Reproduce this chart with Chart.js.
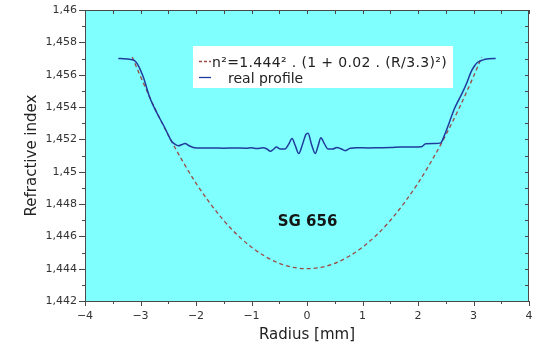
<!DOCTYPE html>
<html>
<head>
<meta charset="utf-8">
<script src="https://cdn.jsdelivr.net/npm/chart.js@4/dist/chart.umd.min.js"></script>
<style>
  html, body { margin: 0; padding: 0; background: #ffffff; }
  #wrap { width: 538px; height: 345px; }
</style>
</head>
<body>
<div id="wrap"><canvas id="chart" width="538" height="345"></canvas></div>
<script>
// Data -----------------------------------------------------------------------------------

var FIT_RADIUS = [-3.15, -3, -2.75, -2.5, -2.25, -2, -1.75, -1.5, -1.25, -1, -0.75, -0.5, -0.25, 0,
                  0.25, 0.5, 0.75, 1, 1.25, 1.5, 1.75, 2, 2.25, 2.5, 2.75, 3, 3.15];
var FIT_INDEX  = [1.45710, 1.45589, 1.45399, 1.45226, 1.45070, 1.44929, 1.44806, 1.44698, 1.44607,
                  1.44533, 1.44475, 1.44433, 1.44408, 1.44400, 1.44408, 1.44433, 1.44475, 1.44533,
                  1.44607, 1.44698, 1.44806, 1.44929, 1.45070, 1.45226, 1.45399, 1.45589, 1.45710];

var PROFILE_RADIUS = [-3.40, -3.30, -3.20, -3.12, -3.06, -2.95, -2.83, -2.70, -2.56, -2.49, -2.44,
                      -2.38, -2.32, -2.25, -2.20, -2.12, -2.05, -1.90, -1.70, -1.50, -1.30, -1.10,
                      -1.00, -0.90, -0.80, -0.72, -0.66, -0.60, -0.55, -0.48, -0.40, -0.33, -0.27,
                      -0.21, -0.15, -0.08, -0.02, 0.02, 0.08, 0.15, 0.20, 0.25, 0.31, 0.38, 0.46,
                      0.54, 0.62, 0.69, 0.78, 0.90, 1.10, 1.30, 1.50, 1.70, 1.90, 2.06, 2.14, 2.30,
                      2.41, 2.47, 2.56, 2.65, 2.72, 2.80, 2.88, 2.95, 3.02, 3.07, 3.16, 3.28, 3.40];
var PROFILE_INDEX  = [1.45700, 1.45698, 1.45695, 1.45690, 1.45668, 1.45585, 1.45455, 1.45360, 1.45270,
                      1.45220, 1.45188, 1.45170, 1.45160, 1.45168, 1.45174, 1.45160, 1.45150, 1.45146,
                      1.45147, 1.45145, 1.45147, 1.45145, 1.45148, 1.45143, 1.45148, 1.45140, 1.45126,
                      1.45140, 1.45152, 1.45140, 1.45140, 1.45170, 1.45205, 1.45160, 1.45112, 1.45170,
                      1.45230, 1.45238, 1.45170, 1.45112, 1.45160, 1.45210, 1.45175, 1.45140, 1.45140,
                      1.45150, 1.45140, 1.45130, 1.45145, 1.45148, 1.45147, 1.45148, 1.45149, 1.45153,
                      1.45152, 1.45154, 1.45172, 1.45174, 1.45178, 1.45220, 1.45300, 1.45385, 1.45435,
                      1.45489, 1.45550, 1.45613, 1.45655, 1.45675, 1.45690, 1.45698, 1.45700];

var X_MIN = -4, X_MAX = 4;
var Y_MIN = 1.442, Y_MAX = 1.46;

var FIT_LABEL = 'n\u00b2=1.444\u00b2 . (1 + 0.02 . (R/3.3)\u00b2)';
var PROFILE_LABEL = 'real profile';
var SAMPLE_LABEL = 'SG 656';

// Constants ------------------------------------------------------------------------------

var PLOT_COLOR    = '#80ffff';
var FRAME_COLOR   = '#4a4a4a';
var TEXT_COLOR    = '#333333';
var FIT_COLOR     = '#9a4b45';
var PROFILE_COLOR = '#1f3c9c';
var FONT          = '"DejaVu Sans", sans-serif';

// Functions ------------------------------------------------------------------------------

function toPoints(xs, ys) {
    var points = [];
    for (var i = 0; i < xs.length; i++) {
        points.push({ x: xs[i], y: ys[i] });
    }
    return points;
}

function formatIndex(value) {
    var text = value.toFixed(3).replace(/0+$/, '').replace(/\.$/, '');
    return text.replace('.', ',');
}

function formatRadius(value) {
    var v = Math.round(value);
    return v < 0 ? '\u2212' + Math.abs(v) : String(v);
}

// plot background and outer white
var backgroundPlugin = {
    id: 'background',
    beforeDraw: function (chart) {
        var ctx = chart.ctx, a = chart.chartArea;
        ctx.save();
        ctx.fillStyle = '#ffffff';
        ctx.fillRect(0, 0, chart.width, chart.height);
        ctx.fillStyle = PLOT_COLOR;
        ctx.fillRect(a.left, a.top, a.right - a.left, a.bottom - a.top);
        ctx.restore();
    }
};

// frame, major/minor ticks, legend box and sample label
var decorPlugin = {
    id: 'decor',
    afterDatasetsDraw: function (chart) {
        var ctx = chart.ctx, a = chart.chartArea;
        var xs = chart.scales.x, ys = chart.scales.y;
        var v, px, major;

        ctx.save();
        ctx.strokeStyle = FRAME_COLOR;
        ctx.lineWidth = 1;
        ctx.strokeRect(a.left + 0.5, a.top + 0.5, a.right - a.left - 1, a.bottom - a.top);

        ctx.beginPath();
        for (v = X_MIN; v <= X_MAX + 1e-9; v += 0.5) {
            px = Math.round(xs.getPixelForValue(v)) + 0.5;
            major = Math.abs(v - Math.round(v)) < 1e-9;
            ctx.moveTo(px, a.bottom);
            ctx.lineTo(px, a.bottom + (major ? 5 : 3));
            ctx.moveTo(px, a.top);
            ctx.lineTo(px, a.top + 4);
        }
        for (v = 0; v <= 18; v++) {
            px = Math.round(ys.getPixelForValue(Y_MIN + v * 0.001)) + 0.5;
            major = v % 2 === 0;
            ctx.moveTo(a.left, px);
            ctx.lineTo(a.left - (major ? 6 : 3), px);
            ctx.moveTo(a.right, px);
            ctx.lineTo(a.right - 4, px);
        }
        ctx.stroke();

        // legend box
        ctx.fillStyle = '#ffffff';
        ctx.fillRect(193, 46, 260, 42);

        ctx.lineWidth = 1.3;
        ctx.strokeStyle = FIT_COLOR;
        ctx.setLineDash([3, 2]);
        ctx.beginPath();
        ctx.moveTo(199, 61.5);
        ctx.lineTo(211, 61.5);
        ctx.stroke();
        ctx.setLineDash([]);
        ctx.strokeStyle = PROFILE_COLOR;
        ctx.beginPath();
        ctx.moveTo(199, 77.5);
        ctx.lineTo(211, 77.5);
        ctx.stroke();

        ctx.fillStyle = '#222222';
        ctx.font = '14px ' + FONT;
        ctx.textAlign = 'left';
        ctx.textBaseline = 'alphabetic';
        ctx.letterSpacing = '0.35px';
        ctx.fillText(FIT_LABEL, 212, 67);
        ctx.letterSpacing = '0px';
        ctx.fillText(PROFILE_LABEL, 228, 83);

        ctx.fillStyle = '#151515';
        ctx.font = 'bold 15px ' + FONT;
        ctx.textAlign = 'center';
        ctx.textBaseline = 'middle';
        ctx.fillText(SAMPLE_LABEL, 307.5, 222);
        ctx.restore();
    }
};

function createChart(chartElementId) {
    var context = document.getElementById(chartElementId).getContext('2d');

    var datasets = [{
        label: PROFILE_LABEL,
        data: toPoints(PROFILE_RADIUS, PROFILE_INDEX),
        borderColor: PROFILE_COLOR,
        borderWidth: 1.5,
        pointRadius: 0,
        cubicInterpolationMode: 'monotone'
    }, {
        label: FIT_LABEL,
        data: toPoints(FIT_RADIUS, FIT_INDEX),
        borderColor: FIT_COLOR,
        borderWidth: 1.3,
        borderDash: [4, 3],
        pointRadius: 0,
        cubicInterpolationMode: 'monotone'
    }];

    return new Chart(context, {
        type: 'line',
        data: { datasets: datasets },
        plugins: [backgroundPlugin, decorPlugin],
        options: {
            responsive: false,
            animation: false,
            layout: { padding: { top: 10, right: 9, left: 0, bottom: 0 } },
            plugins: { legend: { display: false }, tooltip: { enabled: false } },
            scales: {
                x: {
                    type: 'linear',
                    min: X_MIN,
                    max: X_MAX,
                    afterFit: function (scale) { scale.height = 44; },
                    grid: { drawOnChartArea: false, color: 'transparent', tickLength: 6 },
                    border: { display: false },
                    ticks: {
                        stepSize: 1,
                        padding: 3,
                        maxRotation: 0,
                        color: TEXT_COLOR,
                        font: { family: FONT, size: 11 },
                        callback: function (value) { return formatRadius(value); }
                    },
                    title: {
                        display: true,
                        text: 'Radius [mm]',
                        color: '#222222',
                        font: { family: FONT, size: 15 },
                        padding: { top: 0, bottom: 1 }
                    }
                },
                y: {
                    type: 'linear',
                    min: Y_MIN,
                    max: Y_MAX,
                    afterFit: function (scale) { scale.width = 85; },
                    grid: { drawOnChartArea: false, color: 'transparent', tickLength: 6 },
                    border: { display: false },
                    ticks: {
                        stepSize: 0.002,
                        padding: 2,
                        color: TEXT_COLOR,
                        font: { family: FONT, size: 11 },
                        callback: function (value) { return formatIndex(value); }
                    },
                    title: {
                        display: true,
                        text: 'Refractive index',
                        color: '#222222',
                        font: { family: FONT, size: 15 },
                        padding: { top: 23, bottom: 0 }
                    }
                }
            }
        }
    });
}

createChart('chart');
</script>
</body>
</html>
